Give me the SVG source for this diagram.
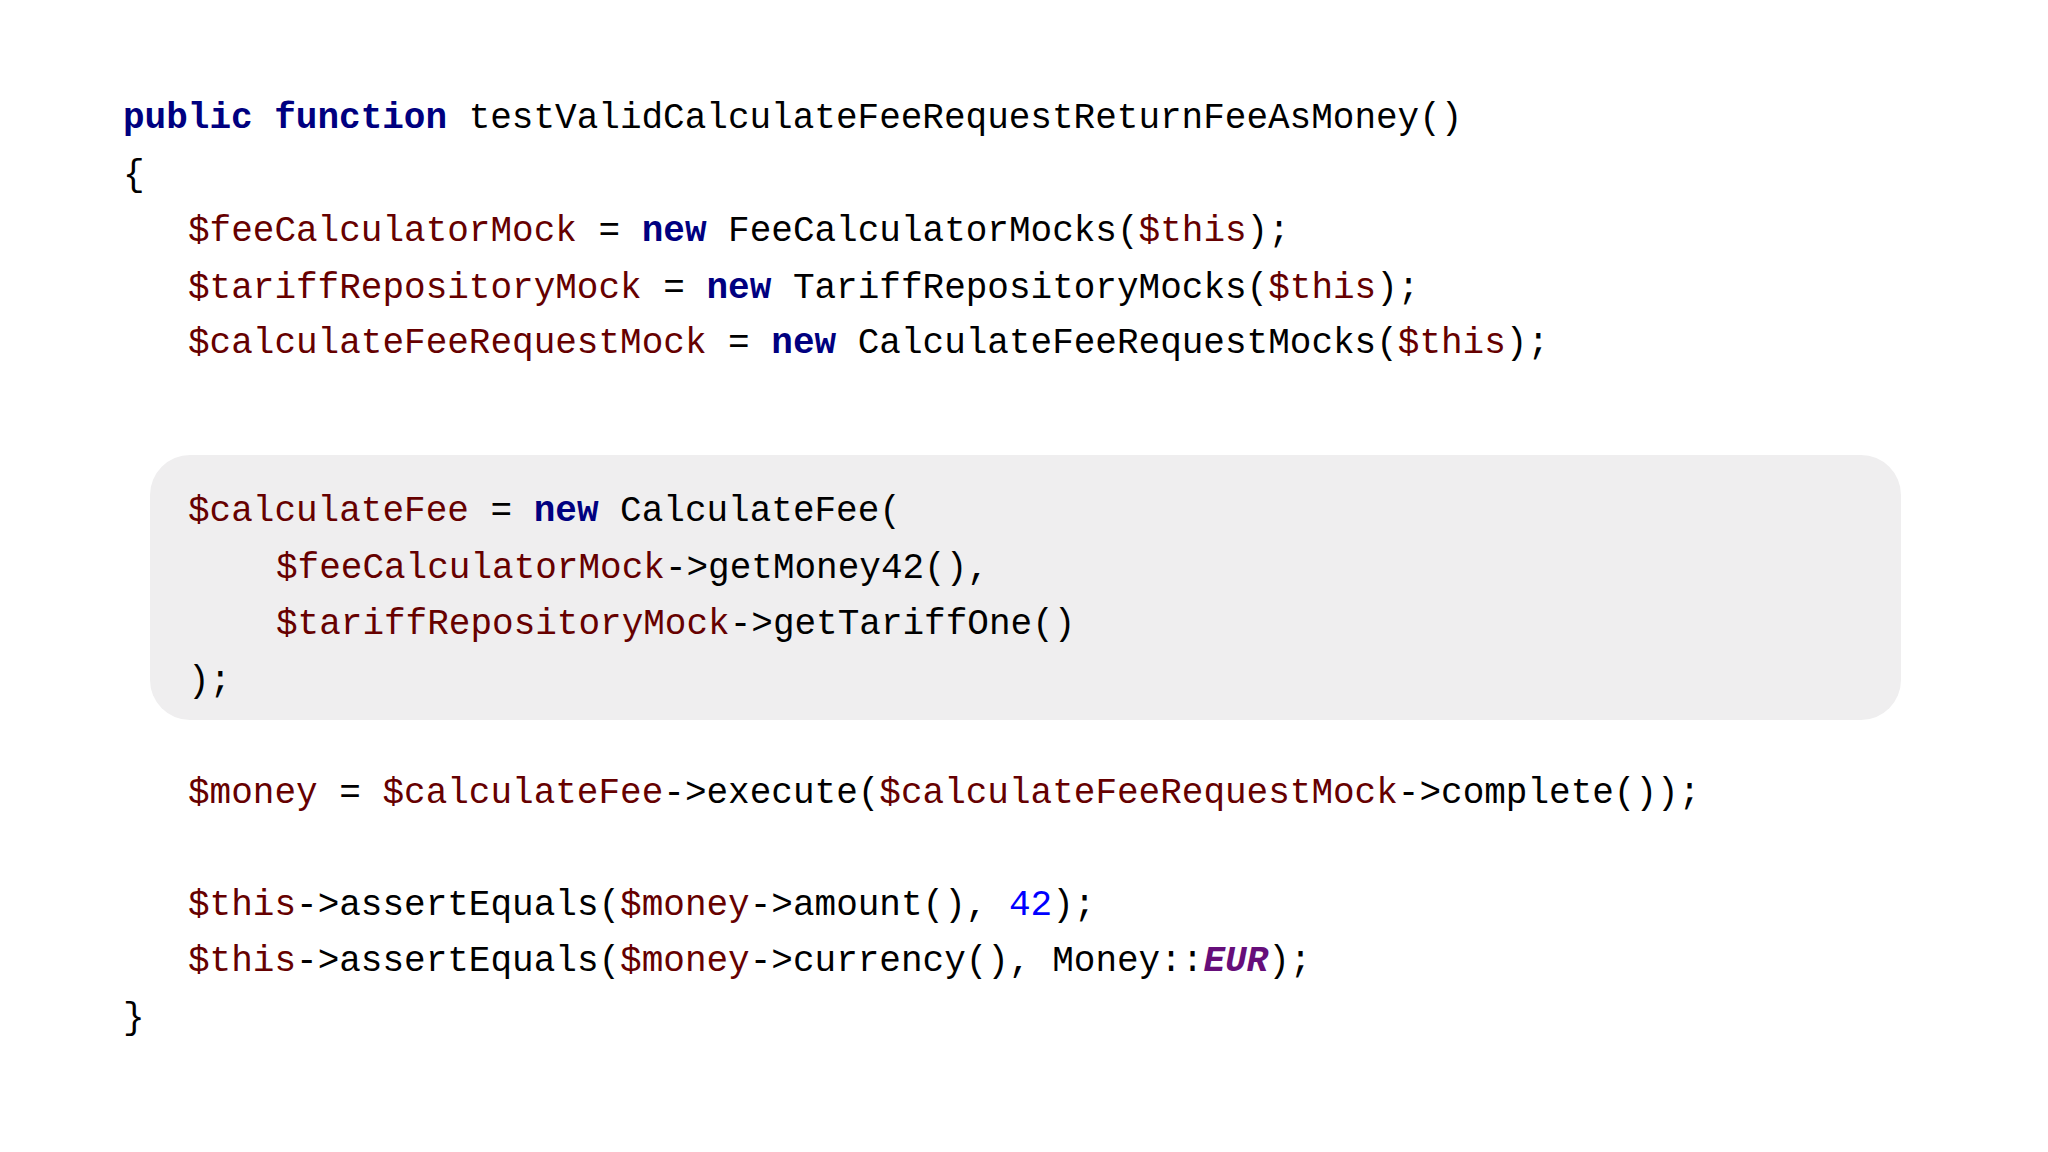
<svg xmlns="http://www.w3.org/2000/svg" width="2048" height="1152" viewBox="0 0 2048 1152">
<style>
text{font-family:"Liberation Mono","DejaVu Sans Mono",monospace;font-size:36px;fill:#000;white-space:pre}
.k{fill:#000080;font-weight:bold}
.v{fill:#660000}
.n{fill:#0000ff}
.c{fill:#660e7a;font-weight:bold;font-style:italic}
</style>
<rect width="2048" height="1152" fill="#fff"/>
<g id="highlight"><rect x="150" y="455" width="1751" height="265" rx="40" fill="#efeeef"/></g>
<g id="code" xml:space="preserve">
<text x="123" y="128"><tspan class="k">public</tspan> <tspan class="k">function</tspan> testValidCalculateFeeRequestReturnFeeAsMoney()</text>
<text x="123" y="185">{</text>
<text x="188" y="241"><tspan class="v">$feeCalculatorMock</tspan> = <tspan class="k">new</tspan> FeeCalculatorMocks(<tspan class="v">$this</tspan>);</text>
<text x="188" y="298"><tspan class="v">$tariffRepositoryMock</tspan> = <tspan class="k">new</tspan> TariffRepositoryMocks(<tspan class="v">$this</tspan>);</text>
<text x="188" y="353"><tspan class="v">$calculateFeeRequestMock</tspan> = <tspan class="k">new</tspan> CalculateFeeRequestMocks(<tspan class="v">$this</tspan>);</text>
<text x="188" y="521"><tspan class="v">$calculateFee</tspan> = <tspan class="k">new</tspan> CalculateFee(</text>
<text x="276" y="578"><tspan class="v">$feeCalculatorMock</tspan>-&gt;getMoney42(),</text>
<text x="276" y="634"><tspan class="v">$tariffRepositoryMock</tspan>-&gt;getTariffOne()</text>
<text x="188" y="691">);</text>
<text x="188" y="803"><tspan class="v">$money</tspan> = <tspan class="v">$calculateFee</tspan>-&gt;execute(<tspan class="v">$calculateFeeRequestMock</tspan>-&gt;complete());</text>
<text x="188" y="915"><tspan class="v">$this</tspan>-&gt;assertEquals(<tspan class="v">$money</tspan>-&gt;amount(), <tspan class="n">42</tspan>);</text>
<text x="188" y="971"><tspan class="v">$this</tspan>-&gt;assertEquals(<tspan class="v">$money</tspan>-&gt;currency(), Money::<tspan class="c">EUR</tspan>);</text>
<text x="123" y="1028">}</text>
</g>
</svg>
